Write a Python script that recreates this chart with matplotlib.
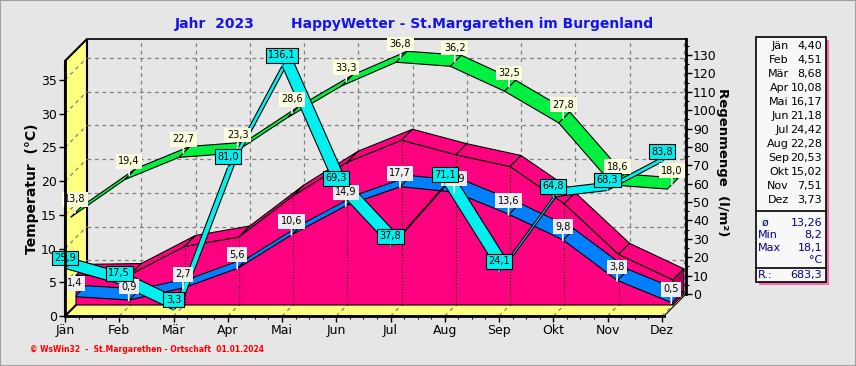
import numpy as np
import matplotlib
matplotlib.use("Agg")
import matplotlib.pyplot as plt
from matplotlib.patches import Polygon, Rectangle

# data
months = ["Jän", "Feb", "Mär", "Apr", "Mai", "Jun", "Jul", "Aug", "Sep", "Okt", "Nov", "Dez"]
temp_mean = [4.40, 4.51, 8.68, 10.08, 16.17, 21.18, 24.42, 22.28, 20.53, 15.02, 7.51, 3.73]
temp_min = [1.4, 0.9, 2.7, 5.6, 10.6, 14.9, 17.7, 16.9, 13.6, 9.8, 3.8, 0.5]
temp_max = [13.8, 19.4, 22.7, 23.3, 28.6, 33.3, 36.8, 36.2, 32.5, 27.8, 18.6, 18.0]
rain = [25.9, 17.5, 3.3, 81.0, 136.1, 69.3, 37.8, 71.1, 24.1, 64.8, 68.3, 83.8]
stats_text = [("ø", "13,26"), ("Min", "8,2"), ("Max", "18,1"), ("", "°C")]
rain_total = "683,3"

BG = "#E6E6E6"
PINK = "#FF0080"
BLUE = "#0080FF"
GREEN = "#00F040"
CYAN = "#00F0F0"
YELLOW = "#FFFF80"
NAVY = "#000090"
TITLE = "#1414F0"

W, H = 856, 366
fig = plt.figure(figsize=(W / 100, H / 100), dpi=100)
fig.patch.set_facecolor(BG)

# front plane of the pseudo-3D box (pixel layout of the original)
ax = fig.add_axes([65 / W, 50 / H, 599 / W, 255 / H])
ax.set_facecolor("none")
XMAX, YMAX = 11.04, 37.8
ax.set_xlim(0, XMAX)
ax.set_ylim(0, YMAX)

# depth vector of the box (22 px right, 22 px up) in data units
DX = 22 / (599 / XMAX)
DY = 22 / (255 / YMAX)
RAIN_SCALE = (255 / 138.7) / (255 / YMAX)  # mm -> degrees on the plot


def P(m, v, z):
    return (m + z * DX, v + z * DY)


def poly(pts, fc, zo, ec="black", lw=0.8):
    ax.add_patch(Polygon(pts, closed=True, fc=fc, ec=ec, lw=lw, clip_on=False, zorder=zo))


def ribbon(vals, z0, z1, color, zo):
    for i in range(len(vals) - 1):
        pts = [P(i, vals[i], z0), P(i + 1, vals[i + 1], z0),
               P(i + 1, vals[i + 1], z1), P(i, vals[i], z1)]
        poly(pts, color, zo)


# floor and left wall
poly([P(0, 0, 0), P(XMAX, 0, 0), P(XMAX, 0, 1), P(0, 0, 1)], YELLOW, 1)
poly([P(0, 0, 0), P(0, YMAX, 0), P(0, YMAX, 1), P(0, 0, 1)], YELLOW, 1, lw=1.5)
# back wall top edge
ax.plot(*zip(P(0, YMAX, 1), P(XMAX, YMAX, 1)), color="black", lw=1.2, clip_on=False, zorder=2)

# grid on back wall, left wall and floor
gkw = dict(color="#808080", lw=0.9, ls=(0, (3, 3)), clip_on=False, zorder=1.5)
for v in range(5, 40, 5):
    ax.plot(*zip(P(0, v, 1), P(XMAX, v, 1)), **gkw)
    ax.plot(*zip(P(0, v, 0), P(0, v, 1)), **gkw)
for m in range(1, 12):
    ax.plot(*zip(P(m, 0, 1), P(m, YMAX, 1)), **gkw)
    ax.plot(*zip(P(m, 0, 0), P(m, 0, 1)), **gkw)

# pink area (monthly mean)
z0, z1 = 0.5, 1.0
n = len(temp_mean)
front = [P(0, 0, z0)] + [P(i, v, z0) for i, v in enumerate(temp_mean)] + [P(n - 1, 0, z0)]
poly(front, PINK, 3)
for i in range(n - 1):
    poly([P(i, temp_mean[i], z0), P(i + 1, temp_mean[i + 1], z0),
          P(i + 1, temp_mean[i + 1], z1), P(i, temp_mean[i], z1)], PINK, 3)
poly([P(n - 1, 0, z0), P(n - 1, temp_mean[-1], z0), P(n - 1, temp_mean[-1], z1), P(n - 1, 0, z1)],
     "#B0005A", 3)
for i in range(1, n - 1):
    ax.plot(*zip(P(i, 0, z0), P(i, temp_mean[i], z0)), color="black", lw=0.8, ls=":",
            clip_on=False, zorder=3.1)

# ribbons
ribbon(temp_min, 0.45, 0.95, BLUE, 4)
ribbon(temp_max, 0.25, 0.75, GREEN, 5)
rain_t = [r * RAIN_SCALE for r in rain]
ribbon(rain_t, 0.0, 0.42, CYAN, 6)


def fmt(v):
    return f"{v:.1f}".replace(".", ",")


def label(m, v, z, text, fc, ec, dy, zo, stem="white"):
    ax.annotate(text, xy=P(m, v, z), xytext=(0, dy), textcoords="offset points",
                ha="center", va="center", fontsize=7, zorder=zo, annotation_clip=False,
                bbox=dict(boxstyle="square,pad=0.25", fc=fc, ec=ec, lw=0.8),
                arrowprops=dict(arrowstyle="-", color=stem, lw=1.2, shrinkA=0, shrinkB=0))


for i, v in enumerate(temp_min):
    label(i, v, 0.43, fmt(v), "#EEEEEE", "none", 10, 7)
for i, v in enumerate(temp_max):
    label(i, v, 0.45, fmt(v), "#FFFFE0", "none", 10, 8)
for i, v in enumerate(rain_t):
    label(i, v, 0.0, fmt(rain[i]), CYAN, "black", 7.5, 9, stem=CYAN)

# axes styling
for s in ["top", "right"]:
    ax.spines[s].set_visible(False)
ax.spines["left"].set_linewidth(2)
ax.spines["bottom"].set_linewidth(2)
ax.spines["left"].set_zorder(10)
ax.spines["bottom"].set_zorder(10)
ax.set_xticks(range(12))
ax.set_xticklabels(months, fontsize=9)
ax.set_xticks(np.arange(0, XMAX, 0.25), minor=True)
ax.set_yticks(range(0, 40, 5))
ax.tick_params(axis="y", labelsize=9, length=4, width=1, pad=2)
ax.tick_params(axis="x", which="major", length=4, width=1, pad=2)
ax.tick_params(axis="x", which="minor", length=2, width=0.8)

fig.text(32 / W, 1 - 189 / H, "Temperatur  (°C)", rotation=90, fontsize=10,
         fontweight="bold", ha="center", va="center")

# rain axis on the back plane
ax2 = fig.add_axes([87 / W, 72 / H, 599 / W, 255 / H])
ax2.set_facecolor("none")
ax2.set_ylim(0, 138.7)
ax2.set_xticks([])
for s in ["top", "left", "bottom"]:
    ax2.spines[s].set_visible(False)
ax2.spines["right"].set_linewidth(2)
ax2.yaxis.tick_right()
ax2.set_yticks(range(0, 140, 10))
ax2.set_yticks(range(5, 140, 10), minor=True)
ax2.tick_params(axis="y", which="major", labelsize=9, length=4, width=1, pad=1)
ax2.tick_params(axis="y", which="minor", length=2, width=0.8)

fig.text(722 / W, 1 - 162 / H, "Regenmenge  (l/m²)", rotation=-90, fontsize=9.5,
         fontweight="bold", ha="center", va="center")

# titles
fig.text(175 / W, 1 - 24 / H, "Jahr  2023", color=TITLE, fontsize=10, fontweight="bold",
         va="center")
fig.text(291 / W, 1 - 24 / H, "HappyWetter - St.Margarethen im Burgenland", color=TITLE,
         fontsize=10, fontweight="bold", va="center")
fig.text(30 / W, 1 - 349 / H, "© WsWin32  -  St.Margarethen - Ortschaft  01.01.2024",
         color="red", fontsize=5.5, fontweight="bold", va="center")

# table box on the right
bx0, bx1, by0, by1 = 756, 826, 37, 282
fig.add_artist(Rectangle((bx0 / W + 3 / W, 1 - (by1 + 3) / H), (bx1 - bx0) / W, (by1 - by0) / H,
                         transform=fig.transFigure, fc="#F070B0", ec="none", zorder=1))
fig.add_artist(Rectangle((bx0 / W, 1 - by1 / H), (bx1 - bx0) / W, (by1 - by0) / H,
                         transform=fig.transFigure, fc="#F8F8F8", ec="black", lw=1.2, zorder=2))
for yy in (211, 268):
    fig.add_artist(plt.Line2D([bx0 / W, bx1 / W], [1 - yy / H] * 2, transform=fig.transFigure,
                              color="black", lw=1.2, zorder=3))
for i, (mname, val) in enumerate(zip(months, temp_mean)):
    y = 1 - (46 + i * 14) / H
    fig.text(789 / W, y, mname, ha="right", va="center", fontsize=8, zorder=4)
    fig.text(822 / W, y, f"{val:.2f}".replace(".", ","), ha="right", va="center", fontsize=8,
             zorder=4)
for i, (name, val) in enumerate(stats_text):
    y = 1 - (223 + i * 12.3) / H
    if name:
        fig.text((762 if name == "ø" else 758) / W, y, name, ha="left", va="center", fontsize=8,
                 color=NAVY, zorder=4)
    fig.text(822 / W, y, val, ha="right", va="center", fontsize=8, color=NAVY, zorder=4)
fig.text(758 / W, 1 - 275 / H, "R.:", ha="left", va="center", fontsize=8, color=NAVY, zorder=4)
fig.text(822 / W, 1 - 275 / H, rain_total, ha="right", va="center", fontsize=8, color=NAVY, zorder=4)

# thin frame round the picture
fig.add_artist(Rectangle((0, 0), 1, 1, transform=fig.transFigure, fc="none", ec="#A0A0A0",
                         lw=1.5, zorder=0))

fig.savefig("out.png", dpi=100, facecolor=fig.get_facecolor())
